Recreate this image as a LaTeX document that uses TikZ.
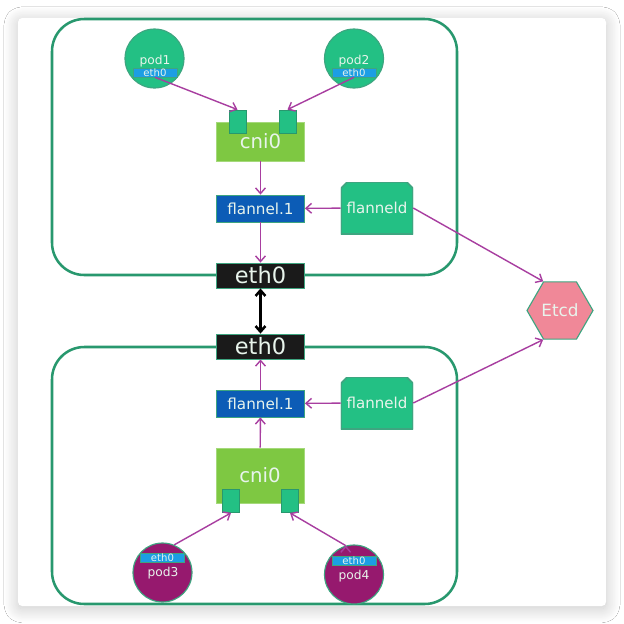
\documentclass[tikz,border=0pt]{standalone}
\usepackage{fontspec}
\setmainfont{DejaVu Sans}
\usetikzlibrary{arrows.meta, shapes.geometric, shadows.blur}
\definecolor{hostgreen}{RGB}{40,152,110}
\definecolor{nodeedge}{RGB}{62,165,128}
\definecolor{podgreen}{RGB}{35,192,132}
\definecolor{podpurple}{RGB}{150,25,110}
\definecolor{ethblue}{RGB}{28,158,228}
\definecolor{bridgegreen}{RGB}{126,200,66}
\definecolor{vxlanblue}{RGB}{12,92,182}
\definecolor{nicblack}{RGB}{26,26,26}
\definecolor{etcdpink}{RGB}{240,136,152}
\definecolor{linkpurple}{RGB}{168,62,160}
\definecolor{labelwhite}{RGB}{232,244,236}
\tikzset{>={Straight Barb[length=4pt,width=7pt]}, % open arrow heads
every node/.style={text=labelwhite, inner sep=0pt}, % light text everywhere
host/.style={draw=hostgreen, line width=1.8pt, rounded corners=23pt}, % one box per host
pod/.style={circle, draw=nodeedge, line width=0.8pt, minimum size=1.475cm}, % a pod
podname/.style={font=\fontsize{8.7}{9}\selectfont}, % name inside a pod
podeth/.style={fill=ethblue, draw=nodeedge, line width=0.4pt, minimum width=1.1cm, minimum height=0.225cm, font=\fontsize{7.2}{7}\selectfont}, % eth0 of a pod
bridge/.style={fill=bridgegreen, draw=bridgegreen!70!white, line width=0.6pt, minimum width=2.2cm, font=\fontsize{14}{14}\selectfont}, % cni0
port/.style={fill=podgreen, draw=hostgreen, line width=0.6pt, minimum width=0.425cm, minimum height=0.575cm}, % port on cni0
vxlan/.style={fill=vxlanblue, draw=nodeedge, line width=0.6pt, minimum width=2.2cm, minimum height=0.675cm, font=\fontsize{10.8}{11}\selectfont}, % flannel.1
daemon/.style={rectangle, minimum width=1.8cm, minimum height=1.3cm, font=\fontsize{10.7}{11}\selectfont,
  path picture={\filldraw[fill=podgreen, draw=nodeedge, line width=1.2pt]
    (path picture bounding box.south west) -- ([yshift=-4.5pt]path picture bounding box.north west)
    -- ([xshift=4.5pt]path picture bounding box.north west) -- ([xshift=-4.5pt]path picture bounding box.north east)
    -- ([yshift=-4.5pt]path picture bounding box.north east) -- (path picture bounding box.south east) -- cycle;}}, % flanneld
nic/.style={fill=nicblack, draw=nodeedge, line width=0.6pt, minimum width=2.2cm, minimum height=0.625cm, font=\fontsize{16}{16}\selectfont}, % eth0 of a host
link/.style={->, draw=linkpurple, line width=1pt}, % purple arrows
wire/.style={<->, draw=black, line width=1.8pt}, % between the hosts
}

\begin{document}
\begin{tikzpicture}[x=0.25mm, y=-0.25mm]
    \useasboundingbox (0,0) rectangle (624,624);
    \fill[white] (0,0) rectangle (624,624);
    \fill[white, rounded corners=3pt, blur shadow={shadow xshift=0pt, shadow yshift=-2pt, shadow blur radius=10pt, shadow blur steps=20, shadow opacity=22}] (18,18) rectangle (606,606);
    % hosts
    \draw[host] (52,19) rectangle (457,275);
    \draw[host] (52,347) rectangle (457,604);
    % upper host
    \node[pod, fill=podgreen] (pod1) at (154.5,58.5) {};
    \node[podname] (pod1n) at (155,61) {pod1};
    \node[podeth] (pod1e) at (155,72.5) {eth0};
    \node[pod, fill=podgreen] (pod2) at (354,58.5) {};
    \node[podname] (pod2n) at (354,61) {pod2};
    \node[podeth] (pod2e) at (354,72.5) {eth0};
    \node[bridge, minimum height=0.975cm] (cni1) at (260.5,141.5) {cni0};
    \node[port] (p1) at (237.5,121.5) {};
    \node[port] (p2) at (287.5,121.5) {};
    \node[vxlan] (fl1) at (260.5,208.5) {flannel.1};
    \node[daemon] (fd1) at (377,208) {flanneld};
    \node[nic] (eth1) at (260.5,275.5) {eth0};
    % lower host
    \node[nic] (eth2) at (260.5,346.5) {eth0};
    \node[vxlan] (fl2) at (260.5,403.5) {flannel.1};
    \node[daemon] (fd2) at (377,403) {flanneld};
    \node[bridge, minimum height=1.375cm] (cni2) at (260,475.5) {cni0};
    \node[port] (p3) at (231,501) {};
    \node[port] (p4) at (290,501) {};
    \node[pod, fill=podpurple] (pod3) at (162.5,572.5) {};
    \node[podname] (pod3n) at (163,573) {pod3};
    \node[podeth] (pod3e) at (162.5,558) {eth0};
    \node[pod, fill=podpurple] (pod4) at (354,574.5) {};
    \node[podname] (pod4n) at (354,576) {pod4};
    \node[podeth] (pod4e) at (354,560.5) {eth0};
    % store
    \node[regular polygon, regular polygon sides=6, fill=etcdpink, draw=nodeedge, line width=0.8pt, minimum size=1.65cm, font=\fontsize{12}{12}\selectfont] (etcd) at (560,310.5) {Etcd};
    \draw[link]
    (pod1e.south) edge (p1.north)
    (pod2e.south) edge (p2.north)
    (cni1) edge (fl1)
    (fl1) edge (eth1)
    (fd1) edge (fl1)
    (fd1.east) edge (etcd.120)
    (cni2) edge (fl2)
    (fl2) edge (eth2)
    (fd2) edge (fl2)
    (fd2.east) edge (etcd.240)
    (pod3.67) edge (p3.south)
    (pod4.106) edge (p4.south)
    ;
    \draw[wire] (eth1) -- (eth2);
\end{tikzpicture}
\end{document}
